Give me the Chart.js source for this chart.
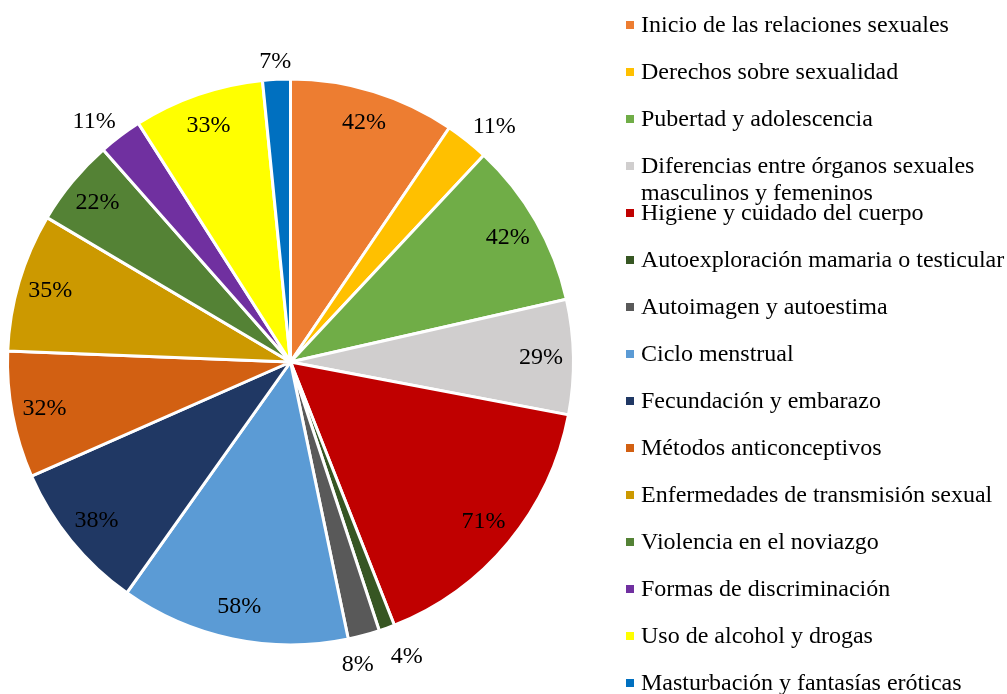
<!DOCTYPE html>
<html>
<head>
<meta charset="utf-8">
<script src="https://cdn.jsdelivr.net/npm/chart.js@4.4.1/dist/chart.umd.min.js"></script>
<style>
  html, body { margin: 0; padding: 0; background: #fff; overflow: hidden; }
  #wrap { position: relative; width: 1007px; height: 694px; }
</style>
</head>
<body>
<div id="wrap"><canvas id="c"></canvas></div>
<script>
const labels = [
  "Inicio de las relaciones sexuales",
  "Derechos sobre sexualidad",
  "Pubertad y adolescencia",
  "Diferencias entre órganos sexuales masculinos y femeninos",
  "Higiene y cuidado del cuerpo",
  "Autoexploración mamaria o testicular",
  "Autoimagen y autoestima",
  "Ciclo menstrual",
  "Fecundación y embarazo",
  "Métodos anticonceptivos",
  "Enfermedades de transmisión sexual",
  "Violencia en el noviazgo",
  "Formas de discriminación",
  "Uso de alcohol y drogas",
  "Masturbación y fantasías eróticas"
];
const values = [42, 11, 42, 29, 71, 4, 8, 58, 38, 32, 35, 22, 11, 33, 7];
const colors = [
  "#ED7D31", "#FFC000", "#70AD47", "#D0CECE", "#C00000",
  "#375623", "#595959", "#5B9BD5", "#203864", "#D26012",
  "#CC9900", "#548235", "#7030A0", "#FFFF00", "#0070C0"
];

const FONT = '24px "Liberation Serif", "Times New Roman", serif';

const valueLabels = {
  id: 'valueLabels',
  afterDatasetsDraw(chart) {
    const ctx = chart.ctx;
    const meta = chart.getDatasetMeta(0);
    const data = chart.data.datasets[0].data;
    ctx.save();
    ctx.font = FONT;
    ctx.fillStyle = '#000';
    ctx.textAlign = 'center';
    ctx.textBaseline = 'middle';
    const items = meta.data.map((arc, i) => {
      const p = arc.getProps(['x', 'y', 'startAngle', 'endAngle', 'outerRadius'], true);
      const mid = (p.startAngle + p.endAngle) / 2;
      const v = data[i];
      const text = v + '%';
      const w = ctx.measureText(text).width, h = 22;
      const c = Math.cos(mid), s = Math.sin(mid);
      const outside = v < 12;
      let x, y;
      if (outside) {
        const r = p.outerRadius + 7;
        const pad = Math.abs(c) > 0.5 ? 15 : 0;
        x = p.x + c * r + c * (w / 2 + pad);
        y = p.y + s * r + s * h / 2;
      } else {
        const r = p.outerRadius * 0.885;
        x = p.x + c * r;
        y = p.y + s * r;
      }
      return { text, x, y, w, h, outside, c, s };
    });
    // resolve overlaps between neighbouring outside labels
    for (let i = 0; i < items.length - 1; i++) {
      const a = items[i], b = items[i + 1];
      if (!a.outside || !b.outside) continue;
      const ov = (a.w + b.w) / 2 + 17 - Math.abs(a.x - b.x);
      if (ov > 0 && Math.abs(a.y - b.y) < a.h) {
        const dir = a.x < b.x ? -1 : 1;
        a.x += dir * ov / 2; b.x -= dir * ov / 2;
        a.y += a.s * 12; b.y += b.s * 12;
      }
    }
    items.forEach(it => ctx.fillText(it.text, it.x, it.y));
    ctx.restore();
  }
};

const sideLegend = {
  id: 'sideLegend',
  afterDraw(chart) {
    const ctx = chart.ctx;
    const x0 = 626, y0 = 25, step = 47, lineH = 27, maxW = 400;
    ctx.save();
    ctx.font = FONT;
    ctx.textBaseline = 'middle';
    ctx.textAlign = 'left';
    chart.data.labels.forEach((lab, i) => {
      const y = y0 + i * step;
      ctx.fillStyle = colors[i];
      ctx.fillRect(x0, y - 4, 8, 8);
      ctx.fillStyle = '#000';
      const words = lab.split(' ');
      const lines = [];
      let cur = '';
      words.forEach(w => {
        const t = cur ? cur + ' ' + w : w;
        if (ctx.measureText(t).width > maxW && cur) { lines.push(cur); cur = w; }
        else cur = t;
      });
      lines.push(cur);
      lines.forEach((t, j) => ctx.fillText(t, x0 + 15, y + 1 + j * lineH));
    });
    ctx.restore();
  }
};

new Chart(document.getElementById('c'), {
  type: 'pie',
  data: {
    labels: labels,
    datasets: [{
      data: values,
      backgroundColor: colors,
      borderColor: '#ffffff',
      borderWidth: 3
    }]
  },
  options: {
    responsive: true,
    maintainAspectRatio: false,
    animation: false,
    events: [],
    layout: { padding: { left: 6, right: 432, top: 77, bottom: 47 } },
    plugins: {
      legend: { display: false },
      tooltip: { enabled: false }
    }
  },
  plugins: [valueLabels, sideLegend]
});
</script>
</body>
</html>
